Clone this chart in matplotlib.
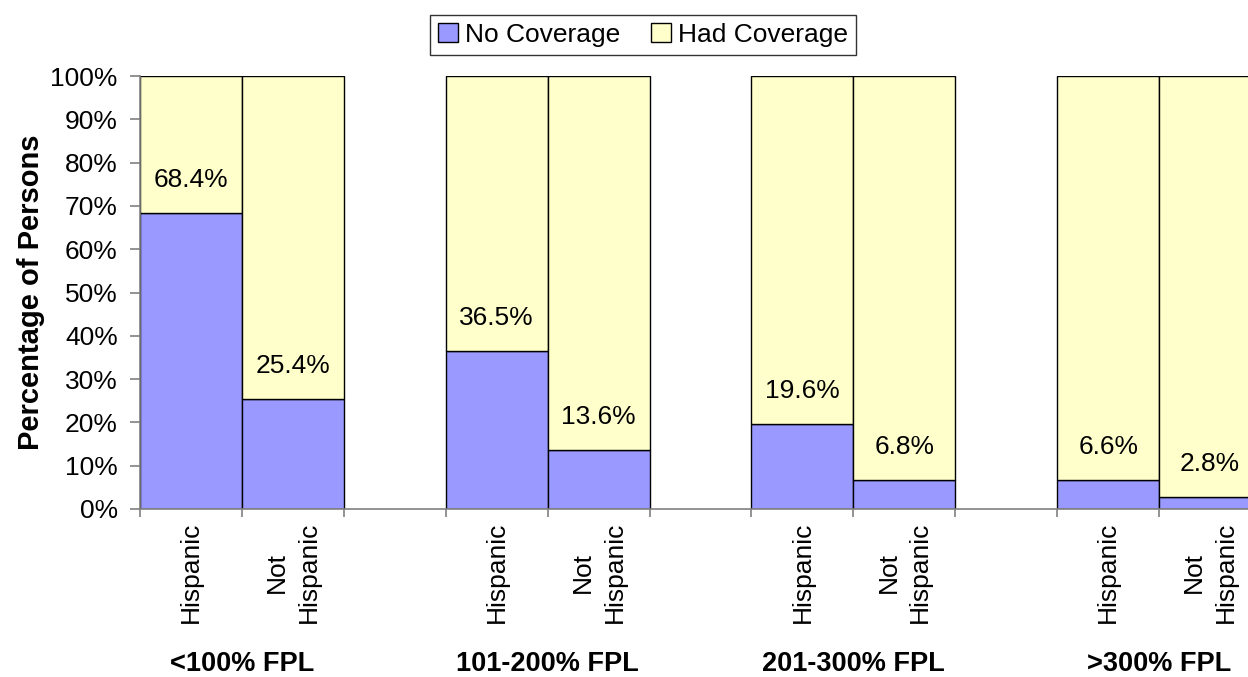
import matplotlib
matplotlib.use("Agg")
import matplotlib.pyplot as plt
import numpy as np

plt.rcParams['font.family'] = ['Liberation Sans', 'DejaVu Sans']

groups = ["<100% FPL", "101-200% FPL", "201-300% FPL", ">300% FPL"]
subcats = ["Hispanic", "Not\nHispanic"]
no_coverage = [68.4, 25.4, 36.5, 13.6, 19.6, 6.8, 6.6, 2.8]
yticks = [0, 10, 20, 30, 40, 50, 60, 70, 80, 90, 100]

W, H = 1248, 677
fig = plt.figure(figsize=(W / 100, H / 100), dpi=100)
left, right = 140 / W, 1261 / W
bottom, top = (H - 509) / H, (H - 76) / H
ax = fig.add_axes([left, bottom, right - left, top - bottom])

blue = "#9999FF"
yellow = "#FFFFCC"

positions = []
for g in range(len(groups)):
    positions += [g * 3, g * 3 + 1]
positions = np.array(positions)
had = [100 - v for v in no_coverage]

ax.bar(positions, no_coverage, width=1.0, color=blue, edgecolor="black", linewidth=1.0, label="No Coverage")
ax.bar(positions, had, bottom=no_coverage, width=1.0, color=yellow, edgecolor="black", linewidth=1.0, label="Had Coverage")

for p, v in zip(positions, no_coverage):
    ax.annotate(f"{v:.1f}%", xy=(p, v), xytext=(0, 33), textcoords="offset pixels",
                ha="center", va="center", fontsize=19)

ax.set_xlim(-0.5, 10.5)
ax.set_ylim(0, 100)
ax.set_yticks(yticks)
ax.set_yticklabels([f"{t}%" for t in yticks], fontsize=19)
ax.set_xticks(np.arange(-0.5, 11, 1.0))
ax.set_xticklabels([])
ax.tick_params(axis="x", length=6, color="#808080", width=1.2)
ax.tick_params(axis="y", length=7, color="#808080", width=1.2, pad=9)

for i, p in enumerate(positions):
    ax.text(p, -3.0, subcats[i % 2], rotation=90, ha="center", va="top", fontsize=19,
            multialignment="center", linespacing=1.4)

for g, name in enumerate(groups):
    ax.text(g * 3 + 0.5, -35.9, name, ha="center", va="center", fontsize=19.5, fontweight="bold")

ax.spines["top"].set_visible(False)
ax.spines["right"].set_visible(False)
ax.spines["left"].set_color("#808080")
ax.spines["bottom"].set_color("#808080")
ax.spines["left"].set_linewidth(1.2)
ax.spines["bottom"].set_linewidth(1.2)

ax.set_ylabel("Percentage of Persons", fontsize=21, fontweight="bold")
ax.yaxis.set_label_coords(-0.085, 0.5)

leg = fig.legend(loc="center", bbox_to_anchor=(643 / W, 1 - 35 / H), ncol=2, fontsize=19,
                 frameon=True, fancybox=False, edgecolor="black", handlelength=0.75, handleheight=0.75,
                 handletextpad=0.25, columnspacing=1.2, borderpad=0.3, borderaxespad=0)
leg.get_frame().set_linewidth(1.0)
for h in leg.legend_handles:
    h.set_edgecolor("black")
    h.set_linewidth(1.0)

fig.savefig("out.png", dpi=100)
